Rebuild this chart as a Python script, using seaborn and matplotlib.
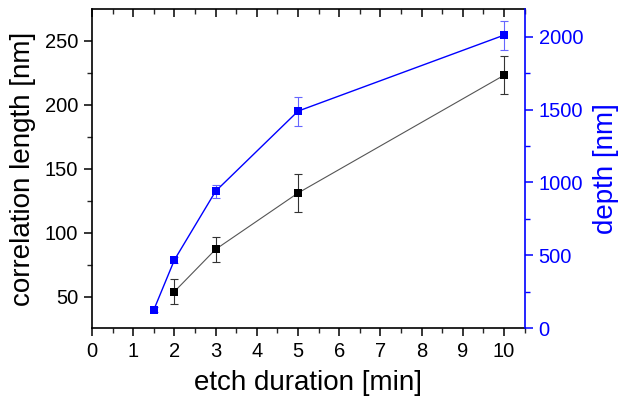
import numpy as np
import pandas as pd
import matplotlib
matplotlib.use("Agg")
import matplotlib.pyplot as plt
from matplotlib.ticker import MultipleLocator
import seaborn as sns

# Correlation length vs. etch duration (left axis)
corr_time = [2, 3, 5, 10]
corr_len = [54, 87, 131, 223]
corr_err = [10, 10, 15, 15]

# Etch depth vs. etch duration (right axis)
depth_time = [1.5, 2, 3, 5, 10]
depth = [127, 469, 940, 1489, 2010]
depth_err = [18, 20, 45, 100, 100]

x_ticks = list(range(0, 11))
left_ticks = [50, 100, 150, 200, 250]
right_ticks = [0, 500, 1000, 1500, 2000]

sns.set_style("ticks")
plt.rcParams["font.family"] = ["Liberation Sans", "DejaVu Sans"]
plt.rcParams["text.color"] = "black"
plt.rcParams["axes.labelcolor"] = "black"

BLUE = "#0000FF"

fig = plt.figure(figsize=(6.18, 4.01), dpi=100)
ax = fig.add_axes([0.1489, 0.1813, 0.849 - 0.1489, 0.9768 - 0.1813])
ax2 = ax.twinx()

corr_df = pd.DataFrame({"t": corr_time, "L": corr_len})
depth_df = pd.DataFrame({"t": depth_time, "d": depth})

# error bars first, then lines with square markers
ax.errorbar(corr_time, corr_len, yerr=corr_err, fmt="none", ecolor="#333333",
            elinewidth=0.8, capsize=3, capthick=0.8, zorder=2)
sns.lineplot(data=corr_df, x="t", y="L", ax=ax, color="#555555", linewidth=0.8,
             marker="s", markersize=5.5, markerfacecolor="black",
             markeredgecolor="black", markeredgewidth=0, zorder=3)

ax2.errorbar(depth_time, depth, yerr=depth_err, fmt="none", ecolor="#6666ff",
             elinewidth=0.8, capsize=3, capthick=0.8, zorder=2)
sns.lineplot(data=depth_df, x="t", y="d", ax=ax2, color=BLUE, linewidth=1.0,
             marker="s", markersize=5.5, markerfacecolor=BLUE,
             markeredgecolor=BLUE, markeredgewidth=0, zorder=3)

ax.set_xlim(0, 10.5)
ax.set_ylim(25.3, 274.5)
ax2.set_ylim(0, 2187)

ax.set_xticks(x_ticks)
ax.xaxis.set_minor_locator(MultipleLocator(0.5))
ax.set_yticks(left_ticks)
ax.yaxis.set_minor_locator(MultipleLocator(25))
ax2.set_yticks(right_ticks)
ax2.yaxis.set_minor_locator(MultipleLocator(250))

ax.set_xlabel("etch duration [min]", fontsize=20, labelpad=6, color="black")
ax.set_ylabel("correlation length [nm]", fontsize=20, labelpad=6, color="black")
ax2.set_ylabel("depth [nm]", fontsize=20, color=BLUE, labelpad=7)

for sp in ax.spines.values():
    sp.set_linewidth(1.2)
    sp.set_color("black")
ax.spines["right"].set_visible(False)
for name, sp in ax2.spines.items():
    sp.set_linewidth(1.2)
    sp.set_visible(name == "right")
ax2.spines["right"].set_color(BLUE)

ax.tick_params(axis="both", which="major", direction="out", length=6, width=1.1,
               labelsize=14.5, colors="black", top=True, pad=4)
ax.tick_params(axis="both", which="minor", direction="out", length=3.5, width=1.0,
               top=True)
# top ticks point into the plot
for t in ax.xaxis.get_major_ticks():
    t.tick2line.set_marker(matplotlib.lines.TICKDOWN)
for t in ax.xaxis.get_minor_ticks():
    t.tick2line.set_marker(matplotlib.lines.TICKDOWN)

ax2.tick_params(axis="y", which="major", direction="out", length=6, width=1.1,
                labelsize=14.5, colors=BLUE, pad=4)
ax2.tick_params(axis="y", which="minor", direction="out", length=3.5, width=1.0,
                colors=BLUE)

ax.set_facecolor("white")
fig.savefig("out.png", dpi=100, facecolor="white")
